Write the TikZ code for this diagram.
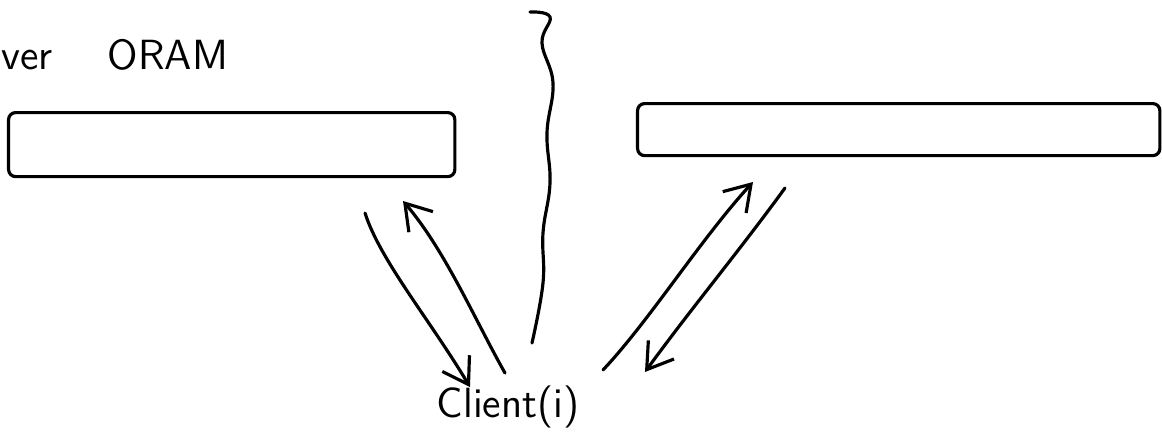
\documentclass[tikz,border=0pt]{standalone}
\usepackage{tikz}
\usetikzlibrary{arrows.meta,positioning,calc}

\begin{document}
\begin{tikzpicture}[x=0.01cm,y=-0.01cm,line width=0.9pt,
  oram/.style={draw,rounded corners=2pt,inner sep=0pt},
  hand/.style={font=\sffamily\fontsize{12}{14}\selectfont},
  msg/.style={-{Straight Barb[length=7pt,width=9pt]},line cap=round}]
  \useasboundingbox (0,0) rectangle (1162,436);
  % Labels
  \node[hand,anchor=west,inner sep=0pt] (title) at (0,55) {ver\hspace{1.3em}ORAM};
  \node[hand,inner sep=1pt] (client) at (508,407) {Client(i)};
  % ORAM buckets
  \node[oram,minimum width=4.46cm,minimum height=0.64cm,anchor=north west] (leftoram) at (7,111) {};
  \node[oram,minimum width=5.22cm,minimum height=0.52cm,anchor=north west] (rightoram) at (636,102) {};
  % Divider
  \draw[line cap=round] plot[smooth,tension=0.7] coordinates
    {(530,12) (550,17) (542,43) (553,83) (547,133) (550,183) (543,233) (543,283) (532,343)};
  % Arrow ends
  \coordinate (lout) at (365,213);
  \coordinate (lin) at (403,201);
  \coordinate (cl1) at (470,387);
  \coordinate (cl2) at (505,373);
  \coordinate (rin) at (753,182);
  \coordinate (rout) at (785,188);
  \coordinate (cr1) at (603,370);
  \coordinate (cr2) at (645,372);
  % Left exchange
  \draw[msg] (lout) .. controls (380,260) and (430,320) .. (cl1);
  \draw[msg] (cl2) .. controls (475,320) and (445,250) .. (lin);
  % Right exchange
  \draw[msg] (cr1) .. controls (650,320) and (700,240) .. (rin);
  \draw[msg] (rout) .. controls (740,250) and (690,310) .. (cr2);
\end{tikzpicture}
\end{document}
